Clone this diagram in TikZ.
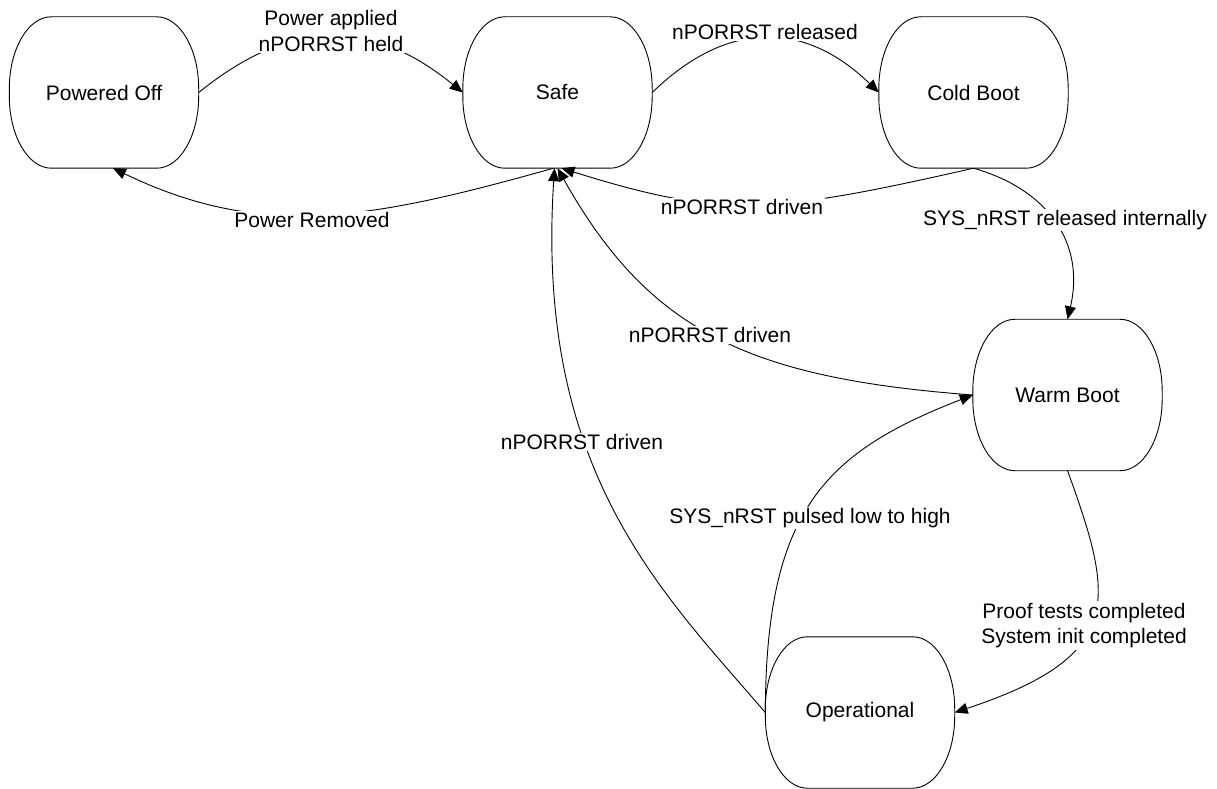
\documentclass[tikz,border=0pt]{standalone}
\usepackage{fontspec}
\setmainfont{Liberation Sans}
\usetikzlibrary{arrows.meta}
\begin{document}
\begin{tikzpicture}[x=1pt,y=1pt,
  statebox/.style={minimum width=189pt,minimum height=151pt,inner sep=0pt,
    font=\fontsize{21}{25.5}\selectfont},
  stateline/.style={draw=black,line width=0.9pt},
  arr/.style={draw=black,line width=0.9pt,-{Triangle[length=13pt,width=11pt]}},
  lbl/.style={fill=white,inner sep=1.5pt,align=center,
    font=\fontsize{21}{25.5}\selectfont}]
\useasboundingbox (0,0) rectangle (1217,788);
\node[statebox] (off)  at (104,695.5)  {Powered Off};
\node[statebox] (safe) at (557.5,695.5) {Safe};
\node[statebox] (cold) at (973.5,695.5) {Cold Boot};
\node[statebox] (warm) at (1067.5,393) {Warm Boot};
\node[statebox] (op)   at (860,75.5)   {Operational};
\foreach \n in {off,safe,cold,warm,op}{
  \draw[stateline] ([xshift=42pt]\n.north west) -- ([xshift=-42pt]\n.north east)
    arc[start angle=90,end angle=0,x radius=42pt,y radius=72pt]
    -- ([yshift=72pt]\n.south east)
    arc[start angle=0,end angle=-90,x radius=42pt,y radius=72pt]
    -- ([xshift=42pt]\n.south west)
    arc[start angle=270,end angle=180,x radius=42pt,y radius=72pt]
    -- ([yshift=-72pt]\n.north west)
    arc[start angle=180,end angle=90,x radius=42pt,y radius=72pt] -- cycle;
}
% Powered Off -> Safe
\draw[arr] (off.east) .. controls (291,770) and (371,770) .. (safe.west)
  node[lbl] at (331,757) {Power applied\\nPORRST held};
% Safe -> Cold Boot
\draw[arr] (safe.east) .. controls (727,768) and (804,768) .. (cold.west)
  node[lbl] at (765,756) {nPORRST released};
% Safe -> Powered Off
\draw[arr] ([xshift=-4pt]safe.south) .. controls (369,568) and (262,548) .. ([xshift=9pt]off.south)
  node[lbl] at (312,568) {Power Removed};
% Cold Boot -> Safe
\draw[arr] (cold.south) .. controls (768,573) and (721,570) .. ([xshift=4pt]safe.south)
  node[lbl] at (742,581) {nPORRST driven};
% Cold Boot -> Warm Boot
\draw[arr] (cold.south) .. controls (1050,598) and (1085,543) .. (warm.north)
  node[lbl] at (1065,568) {SYS\_nRST released internally};
% Warm Boot -> Safe
\draw[arr] (warm.west) .. controls (748,410) and (649,457) .. (safe.south)
  node[lbl] at (710,453) {nPORRST driven};
% Operational -> Safe
\draw[arr] (op.west) .. controls (660,198) and (535,318) .. ([xshift=-3pt]safe.south)
  node[lbl] at (582,346) {nPORRST driven};
% Operational -> Warm Boot
\draw[arr] (op.west) .. controls (766,276) and (823,335) .. (warm.west)
  node[lbl] at (810,270) {SYS\_nRST pulsed low to high};
% Warm Boot -> Operational
\draw[arr] (warm.south) .. controls (1115,187) and (1125,132) .. (op.east)
  node[lbl] at (1084,162.5) {Proof tests completed\\System init completed};
\end{tikzpicture}
\end{document}
